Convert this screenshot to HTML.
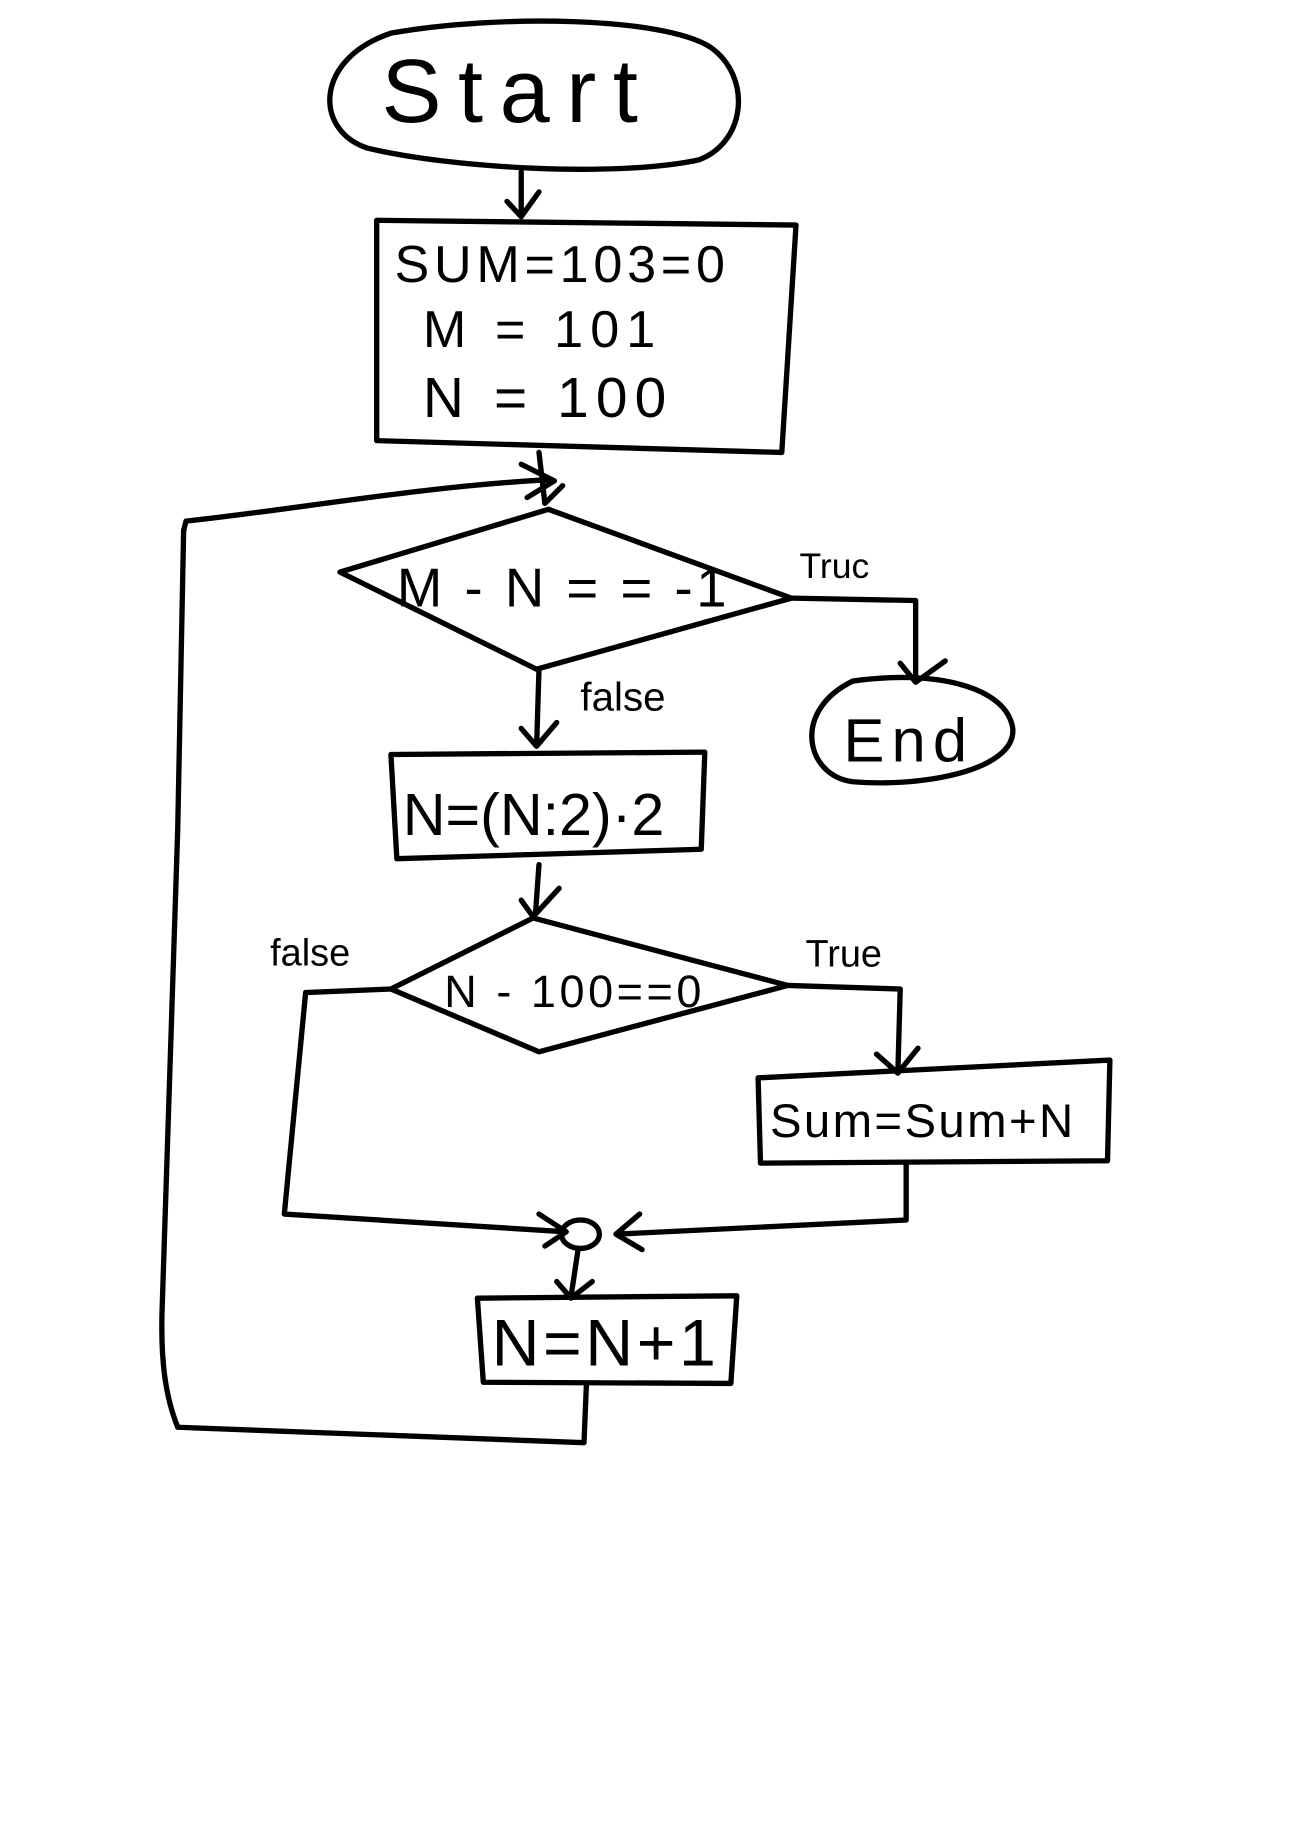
<!DOCTYPE html>
<html><head><style>html,body{margin:0;padding:0;background:#fff}svg{display:block}</style></head>
<body>
<svg width="1303" height="1843" viewBox="0 0 1100 1556" xmlns="http://www.w3.org/2000/svg">
<g fill="none" stroke="#000" stroke-width="4.5" stroke-linecap="round" stroke-linejoin="round">
<!-- Start -->
<path d="M330,28 C420,12 560,14 600,40 C635,65 630,120 590,135 C520,150 380,142 310,125 C265,110 265,50 330,28 Z"/>
<path d="M440,145 L440,182 M428,170 L440,183 L455,162"/>
<!-- Box1 -->
<path d="M318,186 L672,190 L660,382 L318,372 Z"/>
<!-- loop top + arrow -->
<path d="M155,448 L157,440 C250,430 360,410 465,405 M440,392 L468,406 L445,420 M455,382 L460,425 M475,410 L460,425"/>
<!-- diamond1 -->
<path d="M287,483 L463,430 L668,505 L453,565 Z"/>
<!-- true branch -->
<path d="M668,505 L773,507 L773,575 M760,560 L773,576 L798,558"/>
<!-- End -->
<path d="M720,575 C790,565 850,580 855,615 C858,650 780,665 720,660 C680,655 668,600 720,575 Z"/>
<!-- false arrow -->
<path d="M455,565 L453,630 M440,615 L453,630 L470,610"/>
<!-- Box2 -->
<path d="M330,637 L595,635 L592,717 L335,725 Z"/>
<path d="M455,730 L452,772 M440,760 L450,774 L472,750"/>
<!-- diamond2 -->
<path d="M330,835 L450,775 L665,832 L455,888 Z"/>
<!-- false left branch -->
<path d="M330,835 L258,838 L240,1025 L478,1040 M455,1025 L478,1040 L460,1052"/>
<!-- true right -->
<path d="M665,832 L760,835 L758,905 M740,890 L758,906 L775,885"/>
<!-- Box3 -->
<path d="M640,910 L937,895 L935,980 L642,982 Z"/>
<path d="M765,982 L765,1030 L520,1042 M540,1025 L520,1042 L542,1055"/>
<!-- merge circle -->
<ellipse cx="490" cy="1042" rx="16" ry="12"/>
<path d="M488,1055 L482,1095 M470,1082 L482,1096 L500,1082"/>
<!-- Box4 -->
<path d="M403,1096 L622,1094 L617,1168 L408,1167 Z"/>
<!-- loop back -->
<path d="M495,1170 L493,1218 L150,1205 C140,1180 135,1150 137,1100 L150,700 L155,448"/>
</g>
<g font-family="Liberation Sans, sans-serif" fill="#000">
<text x="322" y="103" font-size="76" letter-spacing="14">Start</text>
<text x="333" y="238" font-size="44" letter-spacing="4">SUM=103=0</text>
<text x="357" y="293" font-size="44" letter-spacing="6">M = 101</text>
<text x="357" y="352" font-size="48" letter-spacing="6">N = 100</text>
<text x="335" y="512" font-size="46" letter-spacing="3">M - N = = -1</text>
<text x="675" y="488" font-size="30">Truc</text>
<text x="712" y="643" font-size="52" letter-spacing="6">End</text>
<text x="490" y="600" font-size="34">false</text>
<text x="340" y="705" font-size="50">N=(N:2)·2</text>
<text x="228" y="815" font-size="32">false</text>
<text x="680" y="816" font-size="32">True</text>
<text x="375" y="850" font-size="38" letter-spacing="3">N - 100==0</text>
<text x="650" y="960" font-size="40" letter-spacing="2">Sum=Sum+N</text>
<text x="415" y="1153" font-size="56" letter-spacing="3">N=N+1</text>
</g>
</svg>
</body></html>
